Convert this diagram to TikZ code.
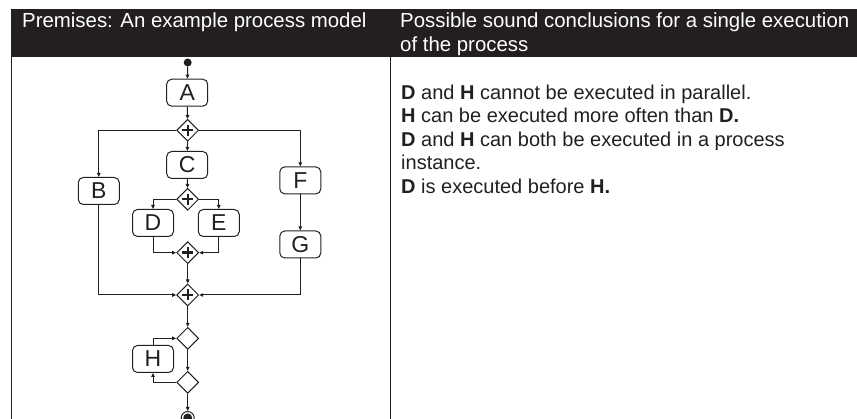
\documentclass[tikz,border=0pt]{standalone}
\usepackage{fontspec}
\setmainfont{Liberation Sans}
\usetikzlibrary{shapes.geometric,arrows.meta}
\definecolor{ink}{HTML}{231F20}
\begin{document}
\begin{tikzpicture}[x=1pt,y=-1pt,
  task/.style={draw=ink,line width=1pt,rounded corners=5pt,minimum width=41pt,minimum height=27pt,inner sep=0pt,font=\fontsize{23}{23}\selectfont,text=ink},
  gw/.style={draw=ink,line width=1pt,diamond,aspect=1,minimum width=22pt,minimum height=22pt,inner sep=0pt,fill=white},
  plus/.style={draw=ink,line width=2.4pt},
  flow/.style={draw=ink,line width=1pt,-{Triangle[length=4pt,width=3.5pt]}},
  hdr/.style={anchor=base west,text=white,font=\fontsize{20.4}{23.5}\selectfont,inner sep=0pt},
  body/.style={anchor=base west,text=ink,font=\fontsize{20}{23.5}\selectfont,inner sep=0pt},
  rule/.style={draw=ink,line width=1pt},
]
\useasboundingbox (0,0) rectangle (857,419);
% table
\fill[ink] (10.5,9) rectangle (857,57);
\draw[rule] (11,57) -- (11,419);
\draw[rule] (390,57) -- (390,419);
\node[hdr] (h1) at (22,28) {Premises: An example process model};
\node[hdr] (h2) at (400,28) {Possible sound conclusions for a single execution};
\node[hdr] (h3) at (400,51.5) {of the process};
\node[body] (t1) at (401,99.3) {\textbf{D} and \textbf{H} cannot be executed in parallel.};
\node[body] (t2) at (401,122.8) {\textbf{H} can be executed more often than \textbf{D.}};
\node[body] (t3) at (401,146.3) {\textbf{D} and \textbf{H} can both be executed in a process};
\node[body] (t4) at (401,169.8) {instance.};
\node[body] (t5) at (401,193.3) {\textbf{D} is executed before \textbf{H.}};
% process model
\node[circle,fill=ink,minimum size=8pt,inner sep=0pt] (start) at (187.7,62.5) {};
\node[task] (A) at (187.2,92.7) {A};
\node[gw] (g1) at (187.7,130.3) {};
\node[task] (C) at (187.2,165) {C};
\node[task] (B) at (98.8,191) {B};
\node[task] (F) at (300.3,180.4) {F};
\node[gw] (g2) at (187.7,199.3) {};
\node[task] (D) at (153,223) {D};
\node[task] (E) at (218.8,223) {E};
\node[gw] (g3) at (187.7,252.7) {};
\node[task] (G) at (300.3,244.5) {G};
\node[gw] (g4) at (187.7,295) {};
\node[gw] (x1) at (187.7,338.3) {};
\node[task] (H) at (153,359) {H};
\node[gw] (x2) at (187.7,382.3) {};
\node[circle,draw=ink,line width=1pt,minimum size=13pt,inner sep=0pt] (end) at (187.7,418) {};
\fill[ink] (end.center) circle[radius=4.5pt];
\foreach \g in {g1,g2,g3,g4}{
  \draw[plus] ([xshift=-5.5pt]\g.center) -- ([xshift=5.5pt]\g.center);
  \draw[plus] ([yshift=-5.5pt]\g.center) -- ([yshift=5.5pt]\g.center);
}
\draw[flow] (start) -- (A);
\draw[flow] (A) -- (g1);
\draw[flow] (g1) -- (C);
\draw[flow] (g1.west) -| (B.north);
\draw[flow] (g1.east) -| (F.north);
\draw[flow] (C) -- (g2);
\draw[flow] (g2.west) -| (D.north);
\draw[flow] (g2.east) -| (E.north);
\draw[flow] (D.south) |- (g3.west);
\draw[flow] (E.south) |- (g3.east);
\draw[flow] (F) -- (G);
\draw[flow] (g3) -- (g4);
\draw[flow] (B.south) |- (g4.west);
\draw[flow] (G.south) |- (g4.east);
\draw[flow] (g4) -- (x1);
\draw[flow] (x1) -- (x2);
\draw[flow] (x2.west) -| (H.south);
\draw[flow] (H.north) |- (x1.west);
\draw[flow] (x2) -- (end);
\end{tikzpicture}
\end{document}
